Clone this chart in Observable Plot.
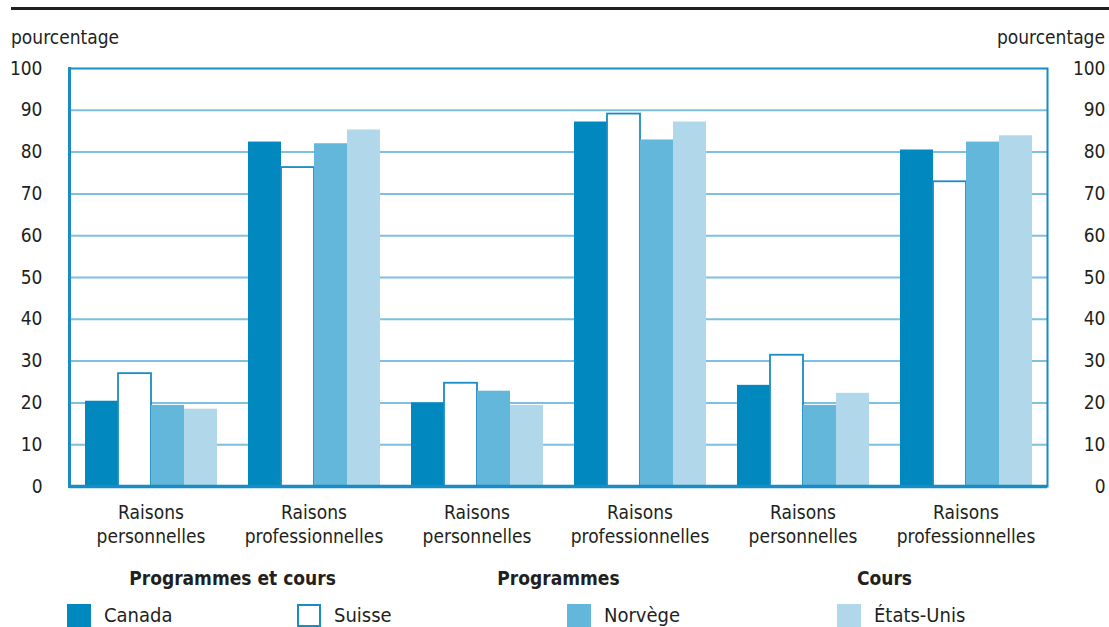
<!DOCTYPE html>
<html>
<head>
<meta charset="utf-8">
<script src="https://cdn.jsdelivr.net/npm/d3@7"></script>
<script src="https://cdn.jsdelivr.net/npm/@observablehq/plot@0.6"></script>
<style>
  html, body { margin: 0; padding: 0; background: #fff; }
  body { width: 1109px; height: 627px; overflow: hidden; position: relative;
         font-family: "Liberation Sans Narrow", "DejaVu Sans Condensed", "Roboto Condensed", Roboto, sans-serif;
         color: #231f20; }
  #header { position: relative; height: 56px; }
  #rule { position: absolute; left: 11px; right: 0; top: 7px; height: 3px; background: #231f20; }
  .unit { position: absolute; top: 26px; font-size: 19px; }
  #legend { position: relative; height: 31px; }
  .sw { position: absolute; top: 8px; width: 24px; height: 23px; box-sizing: border-box; }
  .lt { position: absolute; top: 7px; font-size: 20px; line-height: 24px; }
</style>
</head>
<body>
<div id="header">
  <div id="rule"></div>
  <div class="unit" style="left:11px">pourcentage</div>
  <div class="unit" style="right:4px">pourcentage</div>
</div>
<div id="chart"></div>
<div id="legend"></div>
<script>
const groups = ["g1", "g2", "g3", "g4", "g5", "g6"];
const groupLabels = ["Raisons\npersonnelles", "Raisons\nprofessionnelles", "Raisons\npersonnelles", "Raisons\nprofessionnelles", "Raisons\npersonnelles", "Raisons\nprofessionnelles"];
const sections = ["Programmes et cours", "Programmes", "Cours"];
const countries = ["Canada", "Suisse", "Norvège", "États-Unis"];
const canada  = [20.4, 82.4, 20.0, 87.2, 24.2, 80.5];
const suisse  = [27.0, 76.3, 24.7, 89.1, 31.4, 72.9];
const norvege = [19.4, 82.0, 22.8, 82.9, 19.4, 82.4];
const usa     = [18.5, 85.3, 19.4, 87.2, 22.3, 83.9];
const yTicks = [0, 10, 20, 30, 40, 50, 60, 70, 80, 90, 100];

const colors = ["#0088bf", "#ffffff", "#62b7da", "#b0d8ea"];
const edge = "#1a8cc4";
const series = [canada, suisse, norvege, usa];

const data = [];
groups.forEach((g, i) => countries.forEach((c, j) => data.push({group: g, country: c, value: series[j][i]})));
const labelOf = Object.fromEntries(groups.map((g, i) => [g, groupLabels[i]]));
const sectionData = [{group: "g1", t: sections[0]}, {group: "g3", t: sections[1]}, {group: "g5", t: sections[2]}];

const fontFam = getComputedStyle(document.body).fontFamily;

const chart = Plot.plot({
  width: 1109,
  height: 540,
  marginLeft: 67,
  marginRight: 61,
  marginTop: 12,
  marginBottom: 110,
  style: {fontFamily: fontFam, fontSize: "19px", color: "#231f20", background: "white"},
  fx: {domain: groups, padding: 0, label: null},
  x: {domain: countries, paddingInner: 0, paddingOuter: 0.4, axis: null},
  y: {domain: [0, 100], axis: null},
  color: {domain: countries, range: colors},
  marks: [
    Plot.ruleY(yTicks.filter(d => d > 0 && d < 100), {stroke: "#7dc0e0", strokeWidth: 2}),
    Plot.barY(data, {fx: "group", x: "country", y: "value", fill: "country", inset: 0,
      stroke: d => d.country === "Suisse" ? edge : "none", strokeWidth: 1.8}),
    Plot.ruleY([100], {stroke: edge, strokeWidth: 2}),
    Plot.ruleY([0], {stroke: edge, strokeWidth: 3.5}),
    Plot.frame({anchor: "left", facetAnchor: "left", stroke: edge, strokeWidth: 3}),
    Plot.frame({anchor: "right", facetAnchor: "right", stroke: edge, strokeWidth: 2}),
    Plot.axisY(yTicks, {anchor: "left", tickSize: 0, tickPadding: 27, fontSize: 19, label: null}),
    Plot.axisY(yTicks, {anchor: "right", tickSize: 0, tickPadding: 58, textAnchor: "end", fontSize: 19, label: null}),
    Plot.axisFx({anchor: "bottom", tickSize: 0, tickPadding: 16, fontSize: 19, lineHeight: 1.25,
      tickFormat: g => labelOf[g], label: null}),
    Plot.text(sectionData, {fx: "group", text: "t", frameAnchor: "bottom-right", textAnchor: "middle",
      lineAnchor: "middle", dy: 92, fontWeight: "bold", fontSize: 19, fill: "#231f20"})
  ]
});
document.getElementById("chart").appendChild(chart);

const legend = document.getElementById("legend");
const lx = [67, 297, 567, 837];
countries.forEach((c, i) => {
  const s = document.createElement("div");
  s.className = "sw";
  s.style.left = lx[i] + "px";
  s.style.background = colors[i];
  if (c === "Suisse") s.style.border = "2px solid " + edge;
  legend.appendChild(s);
  const t = document.createElement("div");
  t.className = "lt";
  t.style.left = (lx[i] + 37) + "px";
  t.textContent = c;
  legend.appendChild(t);
});
</script>
</body>
</html>
